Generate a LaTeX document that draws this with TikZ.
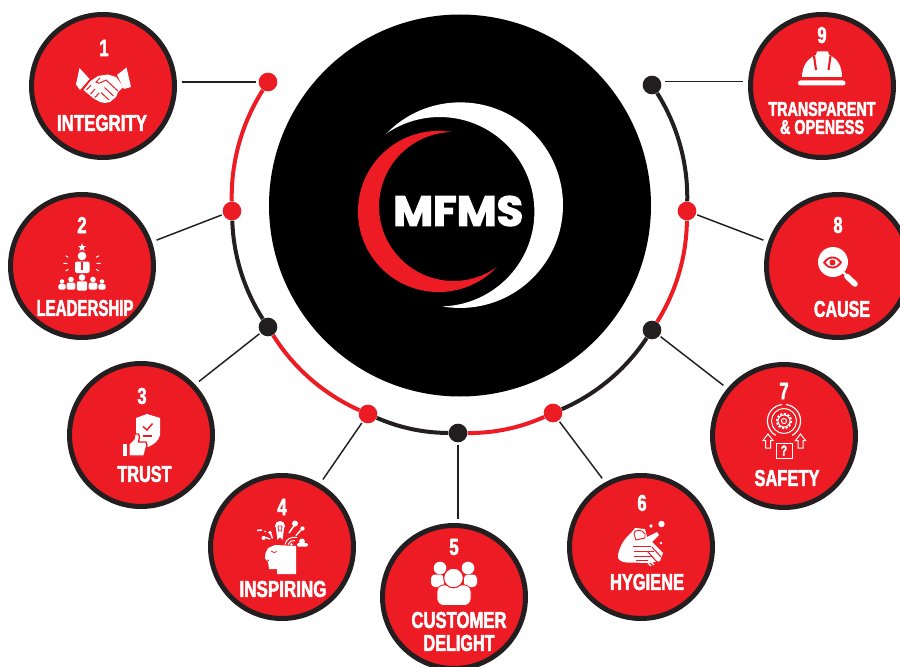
\documentclass[tikz,border=0pt]{standalone}
\usepackage{fontspec}
\usepackage{graphicx}
\newfontfamily\labfam{Liberation Sans}[FakeStretch=.72,BoldFeatures={FakeBold=2.2}]
\newfontfamily\logofam{Poppins}[BoldFeatures={FakeBold=2.6}]
\definecolor{mfred}{HTML}{ED1C24}
\definecolor{mfdark}{HTML}{231F20}
\newlength\pxu \pxu=.75pt
\newcommand\fitlab[3]{\resizebox{#1\pxu}{#2\pxu}{\bfseries\labfam #3}}
\newcommand\numlab[1]{\resizebox{!}{16\pxu}{\bfseries\labfam #1}}
% person: x, head y, head r, body bottom
\newcommand\pers[4]{%
  \fill[white] (#1,#2) circle[radius=#3];
  \fill[white,rounded corners=.9pt] ({#1-1.55*#3},{#2+1.15*#3}) rectangle ({#1+1.55*#3},#4);
}
\tikzset{
  badge/.style={circle,draw=mfdark,fill=mfred,line width=3.75pt,minimum size=107.25pt,inner sep=0pt},
  dotred/.style={circle,fill=mfred,minimum size=14pt,inner sep=0pt},
  dotdark/.style={circle,fill=mfdark,minimum size=14pt,inner sep=0pt},
  ringred/.style={draw=mfred,line width=3pt,looseness=.865},
  ringdark/.style={draw=mfdark,line width=3pt,looseness=.865},
  conn/.style={draw=mfdark,line width=1.1pt},
  lab/.style={text=white,inner sep=0pt},
  wl/.style={draw=white,line width=.75pt},
  rl/.style={draw=mfred,line width=.75pt},
}
\begin{document}
\begin{tikzpicture}[x=.75pt,y=-.75pt]
\path[use as bounding box] (0,0) rectangle (900,667);
\clip (0,0) rectangle (900,667);
\fill[white] (0,0) rectangle (900,667);
% centre disc and logo
\node[circle,fill=black,minimum size=286.5pt,inner sep=0pt] (disc) at (460,205.5) {};
\fill[white] (386,134) arc[start angle=-136.2,end angle=100,radius=102.8]
  arc[start angle=88.4,end angle=-124.2,radius=94.7] -- cycle;
\fill[mfred] (452,132) arc[start angle=-80.4,end angle=-316.5,radius=80.6]
  arc[start angle=54.3,end angle=268.8,radius=74.5] -- cycle;
\node[lab] (logo) at (458.3,211) {\resizebox{130\pxu}{30\pxu}{\bfseries\logofam MFMS}};
% dots
\node[dotred] (d1) at (268,82) {};
\node[dotred] (d2) at (232,211) {};
\node[dotdark] (d3) at (268,327) {};
\node[dotred] (d4) at (368,414) {};
\node[dotdark] (d5) at (458,433) {};
\node[dotred] (d6) at (553,413) {};
\node[dotdark] (d7) at (652,330) {};
\node[dotred] (d8) at (687,211) {};
\node[dotdark] (d9) at (652,85) {};
% ring
\draw[ringred] (d1) to[bend right=17] (d2);
\draw[ringdark] (d2) to[bend right=15.5] (d3);
\draw[ringred] (d3) to[bend right=17] (d4);
\draw[ringdark] (d4) to[bend right=11.7] (d5);
\draw[ringred] (d5) to[bend right=12.3] (d6);
\draw[ringdark] (d6) to[bend right=16.5] (d7);
\draw[ringred] (d7) to[bend right=15.8] (d8);
\draw[ringdark] (d8) to[bend right=16.8] (d9);
% badges
\node[badge] (c1) at (103,86) {};
\node[badge] (c2) at (82,266) {};
\node[badge] (c3) at (141,435) {};
\node[badge] (c4) at (282,547) {};
\node[badge] (c5) at (454,597) {};
\node[badge] (c6) at (641,547) {};
\node[badge] (c7) at (784,436) {};
\node[badge] (c8) at (838,266) {};
\node[badge] (c9) at (822,86) {};
% connectors
\draw[conn,shorten <=1.5pt,shorten >=3.7pt] (d1.west) -- (c1.east |- d1.west);
\draw[conn,shorten <=1pt,shorten >=3.7pt] (d2) -- (c2.19);
\draw[conn,shorten <=1pt,shorten >=3.7pt] (d3) -- (c3.43.5);
\draw[conn,shorten <=1pt,shorten >=3.7pt] (d4) -- (c4.59);
\draw[conn,shorten <=1.5pt,shorten >=3pt] (d5.south) -- (d5.south |- c5.north);
\draw[conn,shorten <=1pt,shorten >=3.7pt] (d6) -- (c6.119);
\draw[conn,shorten <=1pt,shorten >=3.7pt] (d7) -- (c7.140);
\draw[conn,shorten <=1pt,shorten >=3.7pt] (d8) -- (c8.161);
\draw[conn,shorten <=3pt,shorten >=3.7pt] (d9.20) -- (c9.west |- d9.20);
% labels
\node[lab] (n1) at (104,48) {\numlab{1}};
\node[lab] (t1) at (102,123) {\fitlab{90}{16}{INTEGRITY}};
\node[lab] (n2) at (82,225) {\numlab{2}};
\node[lab] (t2) at (85,308) {\fitlab{97}{16}{LEADERSHIP}};
\node[lab] (n3) at (142,396) {\numlab{3}};
\node[lab] (t3) at (144.5,474) {\fitlab{54}{16}{TRUST}};
\node[lab] (n4) at (282,507) {\numlab{4}};
\node[lab] (t4) at (283,589) {\fitlab{87}{16}{INSPIRING}};
\node[lab] (n5) at (454,547) {\numlab{5}};
\node[lab] (t5a) at (459,620) {\fitlab{95}{16}{CUSTOMER}};
\node[lab] (t5b) at (459,643) {\fitlab{71}{16}{DELIGHT}};
\node[lab] (n6) at (642,503) {\numlab{6}};
\node[lab] (t6) at (647,582) {\fitlab{74}{16}{HYGIENE}};
\node[lab] (n7) at (784,391) {\numlab{7}};
\node[lab] (t7) at (787,478) {\fitlab{65}{16}{SAFETY}};
\node[lab] (n8) at (838,225) {\numlab{8}};
\node[lab] (t8) at (842,309) {\fitlab{56}{16}{CAUSE}};
\node[lab] (n9) at (822,35) {\numlab{9}};
\node[lab] (t9a) at (822,109) {\fitlab{107}{14}{TRANSPARENT}};
\node[lab] (t9b) at (822,127) {\fitlab{84}{14}{\&\ OPENESS}};
% icon 1: handshake
\fill[white] (79.5,68) -- (89.5,79) -- (80,90) -- (76,84.5) -- cycle;
\fill[white] (126.5,67.5) -- (131,87) -- (124,89) -- (117,75) -- cycle;
\fill[white] (90.5,81) -- (98,76) -- (108,74.5) -- (116,77) -- (123.5,87) -- (118,92) -- (116,97) -- (110,102) -- (105,103) -- (100,102) -- (93,98) -- (83.5,90) -- cycle;
\draw[rl] (100,78) -- (96,82) .. controls (99,85) and (103,81) .. (106,80) -- (118,91);
\draw[rl] (113.5,96) -- (104.5,87.5);
\draw[rl] (109,100) -- (101,92.5);
\draw[rl] (91,85) -- (86.5,90) (95,89) -- (90.5,94) (99,93) -- (95,97.5);
% icon 2: leader
\fill[white] (82,243) -- (83,246) -- (86,246) -- (83.6,248) -- (84.5,251) -- (82,249.2) -- (79.5,251) -- (80.4,248) -- (78,246) -- (81,246) -- cycle;
\fill[white] (82,256) circle[radius=4.3];
\fill[white,rounded corners=1.5pt] (75,261.5) rectangle (89.5,273);
\draw[mfred,line width=1.2pt] (82.2,262) -- (82.2,270);
\draw[wl] (65.7,255.7) -- (68.3,257.3) (99,255.7) -- (96,257.3) (63.3,263.3) -- (67.3,263.3) (100.7,263.3) -- (96.7,263.3) (65.7,271) -- (68.3,269.3) (99,271) -- (96,269.3);
\pers{62}{281.5}{2.3}{289.5}
\pers{102}{281.5}{2.3}{289.5}
\pers{71}{279.5}{2.8}{289.5}
\pers{93}{279.5}{2.8}{289.5}
\pers{82}{277.5}{3.3}{290.5}
% icon 3: trust
\fill[white] (136,418) -- (147,414) -- (160,418) -- (160,435) .. controls (159,441) and (153,445) .. (148,447) -- (140,443) -- (136,434) -- cycle;
\draw[mfred,line width=1.1pt] (143,426.5) -- (147,430) -- (152.5,423.5);
\draw[mfred,line width=.9pt] (143,436) -- (152,436);
\fill[white] (123,444) rectangle (127,456);
\draw[mfred,line width=1pt,fill=white] (129,456) -- (129,444) -- (134,439) -- (135,434) -- (138.5,434) -- (139.5,437) -- (138.5,442) -- (146,442) -- (147,445) -- (144,456) -- cycle;
% icon 4: inspiring
\fill[white] (265.5,553) -- (268,548) -- (275,545) -- (296,546) -- (296,574) -- (277,574) -- (277,569) -- (269,569) -- (268,562) -- (265,558.5) -- cycle;
\draw[mfred,line width=.6pt] (271,551) .. controls (273,553) and (275,553) .. (277,551.5) (266.5,560) -- (269,560.5);
\fill[white] (280,526) circle[radius=5];
\fill[white] (276,529) -- (284,529) -- (282.5,540) -- (280,537) -- (277.5,540) -- cycle;
\draw[mfred,line width=.6pt] (278,526) -- (282,526) -- (281.5,531) -- (278.5,531) -- cycle;
\fill[white] (295,523.5) circle[radius=3];
\draw[wl,line width=1.1pt] (294.5,525) -- (289,533);
\fill[white] (302.5,528.5) circle[radius=2.2];
\draw[wl,line width=1.1pt] (301,530) -- (296,535.5);
\fill[white] (270,532.5) circle[radius=1.9];
\draw[wl,line width=1.1pt] (270.5,533) -- (272.5,538.5);
\draw[wl,line width=1.1pt] (257,530.5) -- (262,530);
\draw[wl] (264.5,531) -- (266,532);
\fill[white] (263.5,538) circle[radius=2];
\draw[wl,line width=1.1pt] (264,537) -- (270,539);
\draw[wl] (285,544.5) .. controls (286,539) and (291,536.5) .. (297,537.5);
\draw[wl] (288,544.5) .. controls (289,541.5) and (292,540) .. (295,540.5);
\fill[white] (291.5,544.5) circle[radius=1.3];
\fill[white] (302,541.5) circle[radius=3];
\fill[white,rounded corners=1pt] (297,543) rectangle (308,546.5);
% icon 5: customers
\fill[white] (440,568) circle[radius=6.3];
\fill[white] (468,568) circle[radius=6.3];
\fill[white,rounded corners=3pt] (431,574.5) rectangle (444,587);
\fill[white,rounded corners=3pt] (464,574.5) rectangle (477,587);
\draw[mfred,line width=.6pt,fill=white,rounded corners=5pt] (437,605.5) -- (437,585) -- (471,585) -- (471,605.5) -- cycle;
\draw[mfred,line width=.8pt,fill=white] (453.5,578) circle[radius=9.8];
% icon 6: hygiene
\fill[white] (618,555) .. controls (620,545) and (625,538) .. (631,533) -- (635,528) -- (645,529) -- (647,537) -- (657,532) -- (659,535) -- (652,542) -- (663,553) -- (660,561) -- (650,563) -- (627,562.5) .. controls (620,562) and (617,559) .. (618,555) -- cycle;
\draw[mfred,line width=.7pt,fill=white] (634,534) .. controls (633,529) and (643,529) .. (645,534) -- (645,538) -- (636,540) -- cycle;
\draw[mfred,line width=.7pt] (633,546.5) -- (651,546.5) (634,551.5) -- (654,551.5) (634,556.5) -- (652,556.5) (636,560.5) -- (648,560.5);
\draw[mfred,line width=.8pt] (652,547) -- (661,557) (648,552) -- (657,562);
\draw[wl,line width=.9pt] (650,561) -- (654,565) (648,563) -- (651,566);
\fill[white] (661.5,524) circle[radius=3.2];
\fill[white] (651,526) circle[radius=1.8];
\fill[white] (661,543) circle[radius=1.3];
% icon 7: safety
\draw[wl] (784,421) circle[radius=12.5];
\draw[wl,line width=.9pt] (786,404.5) arc[start angle=-83,end angle=60,radius=16.6];
\draw[wl,line width=.9pt] (782,404.5) arc[start angle=-97,end angle=-240,radius=16.6];
\draw[wl,line width=1.4pt,dash pattern=on 1.6pt off 1.2pt] (784,421) circle[radius=7.2];
\draw[wl] (784,421) circle[radius=6];
\draw[wl] (784,421) circle[radius=2.6];
\draw[wl] (768,434) -- (773,440.5) -- (770.5,440.5) -- (770.5,448) -- (765.5,448) -- (765.5,440.5) -- (763,440.5) -- cycle;
\draw[wl] (800.5,434) -- (805.5,440.5) -- (803,440.5) -- (803,448) -- (798,448) -- (798,440.5) -- (795.5,440.5) -- cycle;
\draw[wl] (776,443.5) rectangle (792,458);
\node[lab] (q7) at (784,450.5) {\resizebox{!}{10\pxu}{\bfseries\labfam ?}};
% icon 8: cause
\fill[white] (833,262) circle[radius=15];
\fill[mfred] (823,262.5) .. controls (828,254.5) and (837,254.5) .. (842,262.5) .. controls (837,270.5) and (828,270.5) .. (823,262.5) -- cycle;
\fill[white] (825.5,262.5) .. controls (829,257) and (836,257) .. (839.5,262.5) .. controls (836,268) and (829,268) .. (825.5,262.5) -- cycle;
\fill[mfred] (832.5,262.5) circle[radius=3];
\draw[white,line width=1.6pt] (843,272) -- (846,275);
\draw[white,line width=4.2pt,line cap=round] (847,276.5) -- (855,284);
% icon 9: helmet
\fill[white] (802,77) .. controls (802,66) and (808,58) .. (816,55) -- (817,51.5) -- (828,51.5) -- (829,55) .. controls (837,58) and (842,66) .. (842,77) -- cycle;
\draw[mfred,line width=1.6pt] (814,56) -- (816,70) (830.5,56) -- (828.5,70);
\fill[white,rounded corners=1.8pt] (798,80.5) rectangle (845.5,85.5);
\end{tikzpicture}
\end{document}
